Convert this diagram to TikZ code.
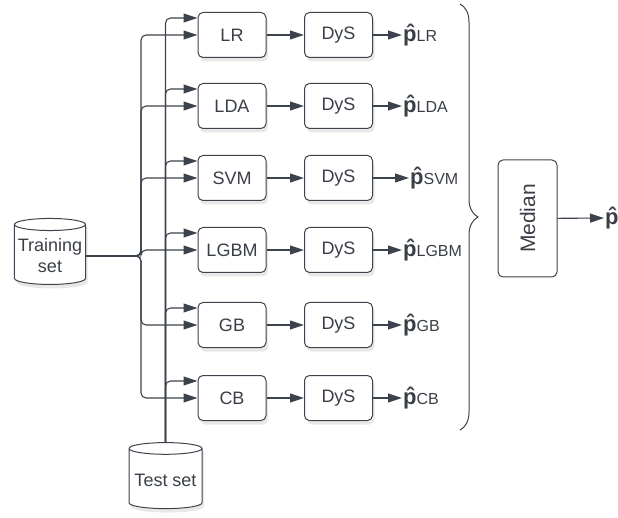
\documentclass[tikz,border=0pt]{standalone}
\usepackage{fontspec}
\setmainfont{Liberation Sans}
\usetikzlibrary{arrows.meta,shapes.geometric,shadows,decorations.pathreplacing}

\definecolor{linegray}{HTML}{3D434C}
\definecolor{textgray}{HTML}{3A3F47}

\newcommand{\probhat}[1]{{\fontsize{22}{22}\selectfont\bfseries\^{p}}{\fontsize{16}{16}\selectfont #1}}

\tikzset{
  box/.style={draw=linegray, line width=1pt, rounded corners=5pt, fill=white,
    minimum width=68pt, minimum height=45pt, text=textgray,
    font=\fontsize{18}{20}\selectfont,
    drop shadow={opacity=0.18, shadow xshift=2pt, shadow yshift=-4pt}},
  db/.style={cylinder, shape border rotate=90, shape aspect=0.17, draw=linegray,
    line width=1pt, fill=white, minimum width=70pt, minimum height=66pt,
    text=textgray, align=center, font=\fontsize{18}{21}\selectfont,
    drop shadow={opacity=0.18, shadow xshift=2pt, shadow yshift=-4pt}},
  link/.style={draw=linegray, line width=1.1pt, rounded corners=5pt,
    -{Triangle[length=14pt,width=9pt]}},
  est/.style={anchor=west, text=textgray, inner sep=1pt}
}

\begin{document}
\begin{tikzpicture}[x=1pt,y=-1pt]
\useasboundingbox (0,0) rectangle (618,518);

% data
\node[db] (train) at (50,256) {Training\\set};
\node[db, minimum width=73pt] (test) at (165.5,480) {Test set};
\coordinate (tjoin) at (141,256);

% models
\node[box] (lr) at (232,35) {LR};
\node[box] (lda) at (232,106) {LDA};
\node[box] (svm) at (232,178) {SVM};
\node[box] (lgbm) at (232,250) {LGBM};
\node[box] (gb) at (232,325) {GB};
\node[box] (cb) at (232,398) {CB};

% DyS
\node[box] (dys1) at (338.5,35) {DyS};
\node[box] (dys2) at (338.5,106) {DyS};
\node[box] (dys3) at (338.5,178) {DyS};
\node[box] (dys4) at (338.5,250) {DyS};
\node[box] (dys5) at (338.5,325) {DyS};
\node[box] (dys6) at (338.5,398) {DyS};

% estimates
\node[est] (p1) at (402,35) {\probhat{LR}};
\node[est] (p2) at (402,106) {\probhat{LDA}};
\node[est] (p3) at (409,178) {\probhat{SVM}};
\node[est] (p4) at (402,250) {\probhat{LGBM}};
\node[est] (p5) at (402,325) {\probhat{GB}};
\node[est] (p6) at (402,398) {\probhat{CB}};

% training set
\draw[link] (train.east) -- (tjoin) |- (lr.west);
\draw[link] (train.east) -- (tjoin) |- (lda.west);
\draw[link] (train.east) -- (tjoin) |- (svm.west);
\draw[link] (train.east) -- (tjoin) |- (lgbm.west);
\draw[link] (train.east) -- (tjoin) |- (gb.west);
\draw[link] (train.east) -- (tjoin) |- (cb.west);

% test set
\draw[link] (test.north) |- ([yshift=17pt]lr.west);
\draw[link] (test.north) |- ([yshift=17pt]lda.west);
\draw[link] (test.north) |- ([yshift=17pt]svm.west);
\draw[link] (test.north) |- ([yshift=17pt]lgbm.west);
\draw[link] (test.north) |- ([yshift=17pt]gb.west);
\draw[link] (test.north) |- ([yshift=17pt]cb.west);

% model -> DyS -> estimate
\draw[link] (lr) -- (dys1);   \draw[link] (dys1) -- (p1);
\draw[link] (lda) -- (dys2);  \draw[link] (dys2) -- (p2);
\draw[link] (svm) -- (dys3);  \draw[link] (dys3) -- (p3);
\draw[link] (lgbm) -- (dys4); \draw[link] (dys4) -- (p4);
\draw[link] (gb) -- (dys5);   \draw[link] (dys5) -- (p5);
\draw[link] (cb) -- (dys6);   \draw[link] (dys6) -- (p6);

% median
\coordinate (btop) at (460,4);
\coordinate (bbot) at (460,430);
\draw[linegray, line width=1pt, decorate, decoration={brace, amplitude=18pt}] (btop) -- (bbot);
\node[draw=linegray, line width=1pt, rounded corners=5pt, rotate=90, minimum width=117pt,
  minimum height=59pt, text=textgray, font=\fontsize{21}{22}\selectfont] (median) at (527.5,218.5) {Median};
\node[est] (pfinal) at (604,218) {{\fontsize{22}{22}\selectfont\bfseries\^{p}}};
\draw[link] (median) -- (pfinal);

\end{tikzpicture}
\end{document}
